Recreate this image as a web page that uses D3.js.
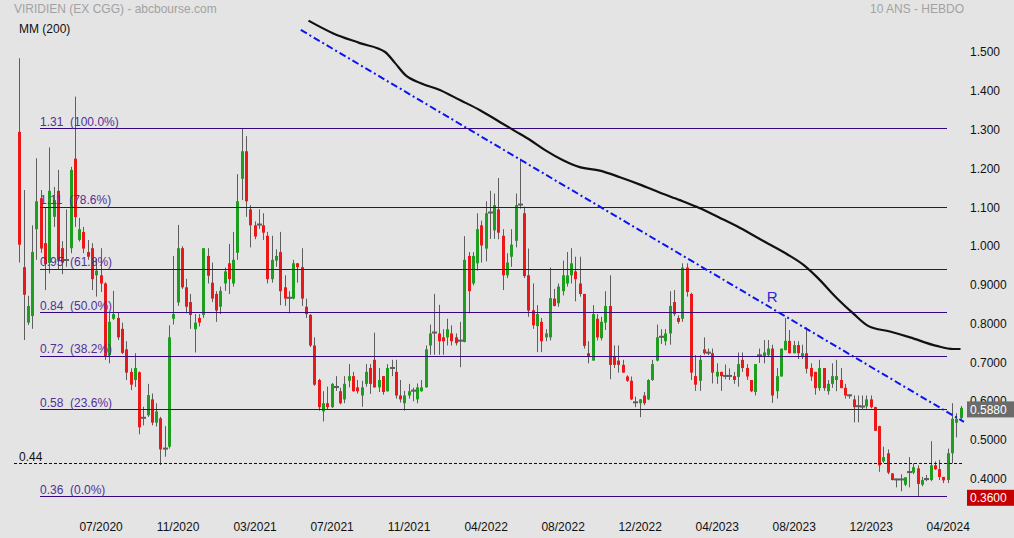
<!DOCTYPE html>
<html><head><meta charset="utf-8">
<script src="https://cdn.jsdelivr.net/npm/d3@7"></script>
<style>
body{margin:0;background:#e4e4e4}
svg{display:block}
text{font-family:"Liberation Sans",Arial,Helvetica,sans-serif}
</style>
</head><body>
<svg id="chart" width="1014" height="538"></svg>
<script>
// ---- data (weekly candles, index 0 = first visible week) ----
const opens=[1.300,0.951,0.808,0.825,1.049,1.129,1.013,0.962,1.081,1.148,1.000,0.969,1.000,1.231,1.021,1.042,0.990,1.000,0.930,0.930,
0.909,0.724,0.818,0.820,0.792,0.739,0.681,0.660,0.680,0.562,0.569,0.610,0.550,0.561,0.482,0.488,0.818,0.860,1.000,0.899,
0.861,0.791,0.820,0.828,0.980,0.911,0.882,0.849,0.909,0.961,0.909,0.988,1.179,1.250,1.100,1.059,1.060,1.059,1.032,0.920,
0.968,0.990,0.899,0.873,0.870,0.961,0.951,0.849,0.828,0.749,0.660,0.579,0.600,0.590,0.641,0.631,0.610,0.658,0.670,0.641,
0.620,0.650,0.691,0.712,0.641,0.670,0.631,0.690,0.681,0.620,0.600,0.620,0.633,0.610,0.631,0.641,0.749,0.782,0.780,0.770,
0.770,0.780,0.770,0.762,0.758,0.980,0.909,0.961,1.059,0.999,1.091,1.046,1.100,1.032,0.930,0.978,1.019,1.112,1.090,0.930,
0.840,0.799,0.810,0.770,0.770,0.870,0.858,0.889,0.909,0.930,0.940,0.909,0.882,0.729,0.710,0.818,0.768,0.808,0.851,0.720,
0.710,0.699,0.669,0.658,0.602,0.600,0.620,0.610,0.660,0.710,0.771,0.760,0.780,0.861,0.820,0.818,0.950,0.882,0.670,0.658,
0.739,0.731,0.729,0.669,0.681,0.671,0.670,0.670,0.668,0.712,0.691,0.660,0.629,0.723,0.722,0.724,0.741,0.631,0.669,0.737,
0.761,0.729,0.750,0.720,0.729,0.691,0.681,0.639,0.691,0.631,0.650,0.660,0.660,0.640,0.621,0.610,0.593,0.591,0.592,0.610,
0.590,0.541,0.450,0.471,0.419,0.404,0.403,0.390,0.422,0.421,0.432,0.390,0.404,0.402,0.440,0.430,0.410,0.402,0.471,0.550,0.562];
const highs=[1.490,1.150,0.877,1.059,1.232,1.150,1.104,1.260,1.158,1.202,1.018,1.100,1.210,1.391,1.078,1.055,1.021,1.013,0.973,1.000,
0.912,0.833,0.890,0.833,0.808,0.760,0.690,0.729,0.682,0.591,0.650,0.625,0.600,0.565,0.541,0.801,0.980,1.060,1.005,0.921,
0.882,0.830,0.830,1.000,1.000,0.963,0.889,0.901,0.950,1.011,1.042,1.191,1.308,1.289,1.111,1.069,1.100,1.090,1.042,1.032,
0.997,1.042,0.930,0.889,0.970,0.962,1.000,0.870,0.830,0.770,0.663,0.631,0.643,0.652,0.670,0.640,0.670,0.701,0.681,0.660,
0.658,0.701,0.701,0.782,0.691,0.670,0.701,0.712,0.712,0.660,0.632,0.650,0.640,0.651,0.660,0.749,0.803,0.882,0.854,0.791,
0.818,0.801,0.780,0.810,1.031,0.990,0.990,1.090,1.071,1.121,1.148,1.141,1.181,1.049,0.987,1.049,1.141,1.231,1.107,0.999,
0.909,0.853,0.820,0.791,0.950,0.895,0.909,0.968,0.990,1.000,0.978,0.978,0.882,0.760,0.853,0.830,0.823,0.889,0.930,0.749,
0.749,0.712,0.672,0.669,0.617,0.611,0.629,0.662,0.712,0.803,0.791,0.791,0.889,0.892,0.827,0.961,0.961,0.885,0.724,0.724,
0.770,0.741,0.741,0.703,0.681,0.700,0.690,0.681,0.731,0.731,0.701,0.660,0.701,0.741,0.763,0.763,0.751,0.691,0.741,0.820,
0.789,0.761,0.760,0.751,0.796,0.703,0.681,0.712,0.691,0.660,0.703,0.712,0.691,0.650,0.622,0.620,0.620,0.620,0.620,0.620,
0.591,0.542,0.488,0.481,0.420,0.405,0.417,0.409,0.461,0.445,0.440,0.410,0.415,0.502,0.450,0.454,0.410,0.483,0.600,0.574,0.593];
const lows=[0.963,0.763,0.802,0.792,0.970,0.988,0.892,0.935,1.055,0.944,0.933,0.952,0.987,1.055,1.017,0.987,0.970,0.892,0.875,0.887,
0.712,0.703,0.815,0.763,0.727,0.660,0.634,0.642,0.520,0.543,0.565,0.543,0.540,0.441,0.462,0.483,0.803,0.851,0.895,0.832,
0.792,0.731,0.798,0.820,0.909,0.861,0.810,0.830,0.890,0.882,0.901,0.970,1.124,1.081,1.002,1.023,1.050,1.021,0.909,0.911,
0.952,0.853,0.851,0.832,0.868,0.911,0.851,0.820,0.745,0.645,0.581,0.553,0.583,0.588,0.632,0.597,0.600,0.641,0.630,0.625,
0.591,0.643,0.624,0.640,0.629,0.622,0.630,0.670,0.612,0.602,0.581,0.612,0.605,0.600,0.630,0.640,0.725,0.725,0.725,0.725,
0.749,0.749,0.749,0.693,0.757,0.832,0.904,0.942,0.963,0.966,1.024,1.024,1.023,0.892,0.923,0.952,1.002,1.102,0.923,0.823,
0.792,0.732,0.732,0.760,0.762,0.850,0.849,0.878,0.901,0.909,0.863,0.875,0.741,0.703,0.710,0.762,0.762,0.789,0.662,0.691,
0.679,0.679,0.655,0.608,0.590,0.564,0.595,0.608,0.658,0.708,0.753,0.749,0.751,0.825,0.805,0.810,0.875,0.660,0.632,0.632,
0.725,0.724,0.651,0.650,0.632,0.662,0.660,0.650,0.643,0.681,0.660,0.629,0.620,0.704,0.703,0.719,0.601,0.612,0.669,0.737,
0.728,0.729,0.714,0.714,0.677,0.658,0.622,0.632,0.632,0.622,0.640,0.631,0.639,0.612,0.612,0.551,0.551,0.584,0.586,0.587,
0.529,0.423,0.446,0.417,0.401,0.383,0.373,0.386,0.383,0.417,0.361,0.386,0.399,0.399,0.428,0.402,0.394,0.394,0.445,0.512,0.558];
const closes=[1.009,0.880,0.851,0.990,1.121,0.999,0.959,1.148,1.124,0.968,0.963,0.970,1.202,1.080,1.049,0.999,0.978,0.920,0.942,0.909,
0.722,0.810,0.830,0.770,0.730,0.679,0.648,0.691,0.538,0.563,0.621,0.550,0.579,0.481,0.484,0.770,0.830,1.000,0.899,0.849,
0.828,0.808,0.808,1.000,0.929,0.870,0.839,0.890,0.940,0.920,0.970,1.121,1.250,1.121,1.059,1.030,1.062,1.040,0.920,0.970,
0.980,0.889,0.870,0.871,0.961,0.951,0.870,0.830,0.749,0.648,0.590,0.600,0.590,0.650,0.643,0.600,0.650,0.670,0.631,0.631,
0.641,0.681,0.650,0.641,0.660,0.629,0.691,0.692,0.620,0.610,0.620,0.631,0.632,0.641,0.641,0.739,0.780,0.783,0.760,0.760,
0.791,0.760,0.755,0.761,0.970,0.889,0.980,1.049,1.007,1.090,1.093,1.111,1.040,0.930,0.963,1.009,1.111,1.113,0.928,0.839,
0.801,0.830,0.760,0.780,0.871,0.851,0.901,0.930,0.930,0.961,0.920,0.882,0.748,0.722,0.830,0.770,0.810,0.851,0.699,0.699,
0.699,0.679,0.658,0.610,0.603,0.610,0.600,0.660,0.701,0.770,0.772,0.780,0.851,0.830,0.810,0.950,0.887,0.679,0.648,0.712,
0.729,0.730,0.679,0.681,0.670,0.670,0.671,0.660,0.701,0.691,0.669,0.631,0.701,0.724,0.731,0.741,0.620,0.670,0.741,0.761,
0.729,0.750,0.729,0.729,0.689,0.669,0.639,0.691,0.639,0.650,0.670,0.670,0.639,0.620,0.620,0.590,0.592,0.592,0.610,0.590,
0.529,0.440,0.461,0.421,0.402,0.403,0.404,0.409,0.423,0.435,0.392,0.402,0.405,0.440,0.430,0.410,0.401,0.471,0.560,0.560,0.588];

const xTickIndex=[19,37,55,73,91,109,127,145,163,181,199,217];
const xTickLabels=["07/2020","11/2020","03/2021","07/2021","11/2021","04/2022","08/2022","12/2022","04/2023","08/2023","12/2023","04/2024"];
const yTickValues=[1.5,1.4,1.3,1.2,1.1,1.0,0.9,0.8,0.7,0.6,0.5,0.4];
const yTickLabels=["1.500","1.400","1.300","1.200","1.100","1.000","0.9000","0.8000","0.7000","0.6000","0.5000","0.4000"];
const fibValues=[1.31,1.1067,0.9471,0.835,0.7229,0.5842,0.36];
const fibLabels=["1.31  (100.0%)","1.11  (78.6%)","0.95  (61.8%)","0.84  (50.0%)","0.72  (38.2%)","0.58  (23.6%)","0.36  (0.0%)"];
const supportValue=0.445, supportLabel="0.44";
const maIndex=[67.6,73.4,79.6,85.5,87.8,90.2,93.7,98.3,103,107.7,112.4,115.9,119.4,122.9,127.1,131,135.7,140.4,145.1,149.8,154.4,159.1,163.8,168.5,173.5,179.4,183.3,186.4,191.1,194.9,198.5,203.5,208.2,214.4,218.3,220];
const maValues=[1.587,1.554,1.529,1.506,1.478,1.447,1.426,1.408,1.382,1.356,1.325,1.302,1.279,1.253,1.227,1.209,1.200,1.183,1.164,1.143,1.124,1.103,1.078,1.052,1.021,0.985,0.957,0.926,0.871,0.832,0.799,0.785,0.770,0.748,0.740,0.740];
const trendIndex=[65.8,220.8], trendValues=[1.563,0.552];
const trendLabel="R", trendLabelIndex=174.7, trendLabelValue=0.862;
const lastValue=0.588, lastLabel="0.5880";
const lowValue=0.36, lowLabel="0.3600";
const title="VIRIDIEN (EX CGG) - abcbourse.com", period="10 ANS - HEBDO", maLabel="MM (200)";

// ---- drawing ----
const svg=d3.select("#chart");
svg.append("rect").attr("width",1014).attr("height",538).attr("fill","#e4e4e4");
const x=d3.scaleLinear().domain([0,220]).range([19.3,960.5]);
const y=d3.scaleLinear().domain([0.36,1.31]).range([496.3,128]);
const idx=d3.range(opens.length);

// candles
const cg=svg.append("g");
cg.selectAll("line.w").data(idx).join("line")
  .attr("x1",i=>Math.round(x(i))+0.5).attr("x2",i=>Math.round(x(i))+0.5)
  .attr("y1",i=>y(highs[i])).attr("y2",i=>y(lows[i]))
  .attr("stroke","#5e5e5e").attr("stroke-width",1);
const isDoji=i=>Math.abs(closes[i]-opens[i])<0.004;
cg.selectAll("rect.b").data(idx.filter(i=>!isDoji(i))).join("rect")
  .attr("x",i=>Math.round(x(i))-1).attr("width",3)
  .attr("y",i=>y(Math.max(opens[i],closes[i])))
  .attr("height",i=>Math.max(1,Math.abs(y(opens[i])-y(closes[i]))))
  .attr("fill",i=>closes[i]>opens[i]?"#1e9e1e":"#ea1818");
cg.selectAll("rect.d").data(idx.filter(isDoji)).join("rect")
  .attr("x",i=>Math.round(x(i))-2).attr("width",5)
  .attr("y",i=>y((opens[i]+closes[i])/2)-1).attr("height",2)
  .attr("fill","#5e5e5e");

// fibonacci levels
const fg=svg.append("g");
fg.selectAll("line").data(fibValues).join("line")
  .attr("x1",40).attr("x2",947).attr("y1",d=>Math.round(y(d))+0.5).attr("y2",d=>Math.round(y(d))+0.5)
  .attr("stroke","#36087f").attr("stroke-width",1.1);
fg.selectAll("text").data(fibValues).join("text")
  .attr("x",40).attr("y",d=>y(d)-2.5).attr("font-size",12).attr("fill","#52309a")
  .attr("xml:space","preserve").style("white-space","pre")
  .text((d,i)=>fibLabels[i]);

// support dashed line
svg.append("line").attr("x1",14).attr("x2",964)
  .attr("y1",Math.round(y(supportValue))+0.5).attr("y2",Math.round(y(supportValue))+0.5)
  .attr("stroke","#111").attr("stroke-width",1).attr("stroke-dasharray","3,2");
svg.append("text").attr("x",19).attr("y",y(supportValue)-2).attr("font-size",12).attr("fill","#111").text(supportLabel);

// moving average
svg.append("path").datum(d3.range(maIndex.length))
  .attr("d",d3.line().x(i=>x(maIndex[i])).y(i=>y(maValues[i])).curve(d3.curveMonotoneX))
  .attr("fill","none").attr("stroke","#111").attr("stroke-width",2.2);

// resistance trend line
svg.append("path").datum([0,1])
  .attr("d",d3.line().x(i=>x(trendIndex[i])).y(i=>y(trendValues[i])))
  .attr("fill","none").attr("stroke","#0a14f0").attr("stroke-width",2)
  .attr("stroke-dasharray","7,3,2,3");
svg.append("text").attr("x",x(trendLabelIndex)).attr("y",y(trendLabelValue))
  .attr("font-size",15).attr("fill","#2a2ad0").text(trendLabel);

// right axis
const ya=svg.append("g").attr("transform","translate(970,-2.2)")
  .call(d3.axisRight(y).tickValues(yTickValues).tickSize(0).tickPadding(0).tickFormat((d,i)=>yTickLabels[i]));
ya.select(".domain").remove();
ya.selectAll("text").attr("font-size",12).attr("fill","#111").attr("font-family","Liberation Sans, Arial, sans-serif").attr("text-anchor","start");

// bottom axis
const xa=svg.append("g").attr("transform","translate(0,522.5)")
  .call(d3.axisBottom(x).tickValues(xTickIndex).tickSize(0).tickPadding(0).tickFormat((d,i)=>xTickLabels[i]));
xa.select(".domain").remove();
xa.selectAll("text").attr("font-size",12).attr("fill","#111").attr("font-family","Liberation Sans, Arial, sans-serif");

// price boxes (drawn over the axis labels, as in the source chart)
function priceBox(v,label,fill){
  const cy=y(v)+1.5;
  svg.append("rect").attr("x",967).attr("y",cy-8).attr("width",47).attr("height",16).attr("fill",fill);
  svg.append("text").attr("x",970).attr("y",cy+4.3).attr("font-size",12).attr("fill","#fff").text(label);
}
priceBox(lastValue,lastLabel,"#6b6b6b");
priceBox(lowValue,lowLabel,"#c40000");

// header
svg.append("text").attr("x",14).attr("y",12.7).attr("font-size",12).attr("fill","#a2a2a2").text(title);
svg.append("text").attr("x",964).attr("y",12.7).attr("font-size",12).attr("fill","#a2a2a2").attr("text-anchor","end").text(period);
svg.append("text").attr("x",19).attr("y",33.3).attr("font-size",12).attr("fill","#111").text(maLabel);
</script>
</body></html>
